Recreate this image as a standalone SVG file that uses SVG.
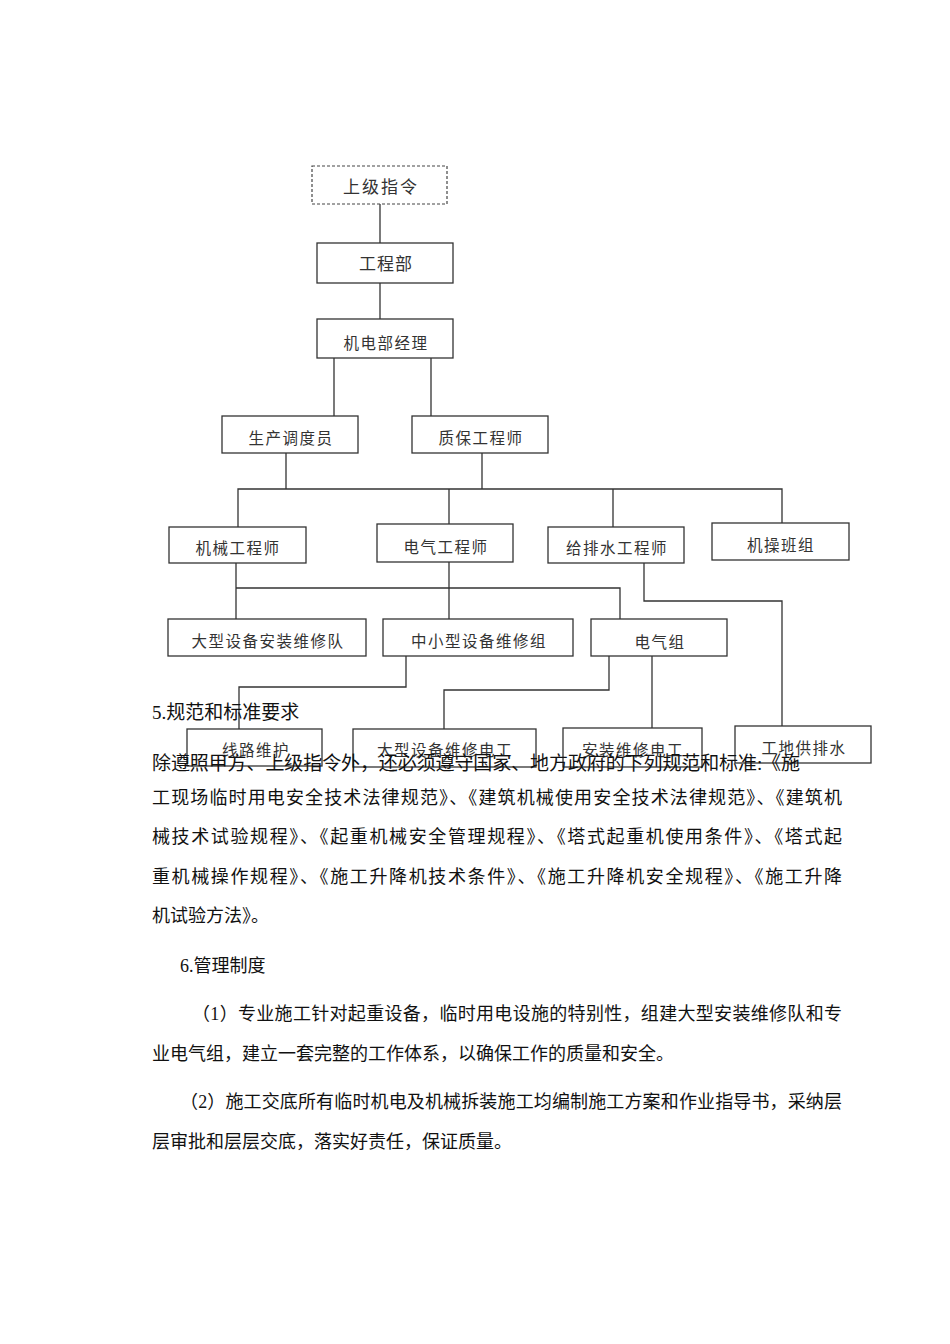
<svg xmlns="http://www.w3.org/2000/svg" width="950" height="1344" viewBox="0 0 950 1344">
<style>
.box{fill:#fff;stroke:#333;stroke-width:1.3}
.dash{fill:#fff;stroke:#444;stroke-width:1.2;stroke-dasharray:3 2}
.lbl{font-family:"Noto Sans CJK SC",sans-serif;font-size:15.5px;fill:#333;text-anchor:middle;letter-spacing:1.5px}
.big{font-size:17px;letter-spacing:2px}
.ln{fill:none;stroke:#333;stroke-width:1.3}
.body{font-family:"Liberation Serif","Noto Sans CJK SC",serif;font-size:18px;fill:#111}
.b19{font-size:19px}
</style>
<rect width="950" height="1344" fill="#fff"/>
<g id="connectors" class="ln">
<path d="M380 204V243"/>
<path d="M380 283V319"/>
<path d="M334 358V416M431 358V416"/>
<path d="M286 453V489M482 453V489"/>
<path d="M238 527V489H782V523"/>
<path d="M449 489V524M613 489V527"/>
<path d="M236 563V619M236 588H620V619"/>
<path d="M449 562V619"/>
<path d="M644 563V601H782V726"/>
<path d="M406 656V687H239V729"/>
<path d="M609 656V690H444V729"/>
<path d="M652 656V728"/>
</g>
<g id="n_sjzl"><rect class="dash" x="312" y="166" width="135" height="38"/><text class="lbl big" x="381" y="193">上级指令</text></g>
<g id="n_gcb"><rect class="box" x="317" y="243" width="136" height="40"/><text class="lbl big" x="386" y="270" style="letter-spacing:1px">工程部</text></g>
<g id="n_jdbjl"><rect class="box" x="317" y="319" width="136" height="39"/><text class="lbl" x="386" y="349">机电部经理</text></g>
<g id="n_scdd"><rect class="box" x="222" y="416" width="136" height="37"/><text class="lbl" x="291" y="444">生产调度员</text></g>
<g id="n_zbgcs"><rect class="box" x="412" y="416" width="136" height="37"/><text class="lbl" x="481" y="444">质保工程师</text></g>
<g id="n_jxgcs"><rect class="box" x="169" y="527" width="137" height="36"/><text class="lbl" x="238" y="554">机械工程师</text></g>
<g id="n_dqgcs"><rect class="box" x="377" y="524" width="136" height="38"/><text class="lbl" x="446" y="553">电气工程师</text></g>
<g id="n_gpsgcs"><rect class="box" x="548" y="527" width="136" height="36"/><text class="lbl" x="617" y="554">给排水工程师</text></g>
<g id="n_jcbz"><rect class="box" x="712" y="523" width="137" height="37"/><text class="lbl" x="781" y="551">机操班组</text></g>
<g id="n_dxsbaz"><rect class="box" x="168" y="619" width="198" height="37"/><text class="lbl" x="268" y="647">大型设备安装维修队</text></g>
<g id="n_zxxsb"><rect class="box" x="383" y="619" width="190" height="37"/><text class="lbl" x="479" y="647">中小型设备维修组</text></g>
<g id="n_dqz"><rect class="box" x="591" y="619" width="136" height="37"/><text class="lbl" x="660" y="648">电气组</text></g>
<g id="n_xlwh"><rect class="box" x="187" y="729" width="135" height="37"/><text class="lbl" x="256" y="756">线路维护</text></g>
<g id="n_dxsbwx"><rect class="box" x="353" y="729" width="183" height="38"/><text class="lbl" x="445" y="756">大型设备维修电工</text></g>
<g id="n_azwx"><rect class="box" x="563" y="728" width="139" height="39"/><text class="lbl" x="633" y="756">安装维修电工</text></g>
<g id="n_gdgps"><rect class="box" x="735" y="726" width="136" height="37"/><text class="lbl" x="804" y="754">工地供排水</text></g>
<g id="bodytext" class="body">
<text class="b19" x="152" y="719">5.规范和标准要求</text>
<text class="b19" x="152" y="770" textLength="648" lengthAdjust="spacing">除遵照甲方、上级指令外，还必须遵守国家、地方政府的下列规范和标准:《施</text>
<text x="152" y="804" textLength="690" lengthAdjust="spacing">工现场临时用电安全技术法律规范》、《建筑机械使用安全技术法律规范》、《建筑机</text>
<text x="152" y="843" textLength="690" lengthAdjust="spacing">械技术试验规程》、《起重机械安全管理规程》、《塔式起重机使用条件》、《塔式起</text>
<text x="152" y="883" textLength="690" lengthAdjust="spacing">重机械操作规程》、《施工升降机技术条件》、《施工升降机安全规程》、《施工升降</text>
<text x="152" y="922">机试验方法》。</text>
<text x="180" y="972">6.管理制度</text>
<text x="192" y="1020" textLength="650" lengthAdjust="spacing">（1）专业施工针对起重设备，临时用电设施的特别性，组建大型安装维修队和专</text>
<text x="152" y="1060">业电气组，建立一套完整的工作体系，以确保工作的质量和安全。</text>
<text x="180" y="1108" textLength="662" lengthAdjust="spacing">（2）施工交底所有临时机电及机械拆装施工均编制施工方案和作业指导书，采纳层</text>
<text x="152" y="1148">层审批和层层交底，落实好责任，保证质量。</text>
</g>
</svg>
